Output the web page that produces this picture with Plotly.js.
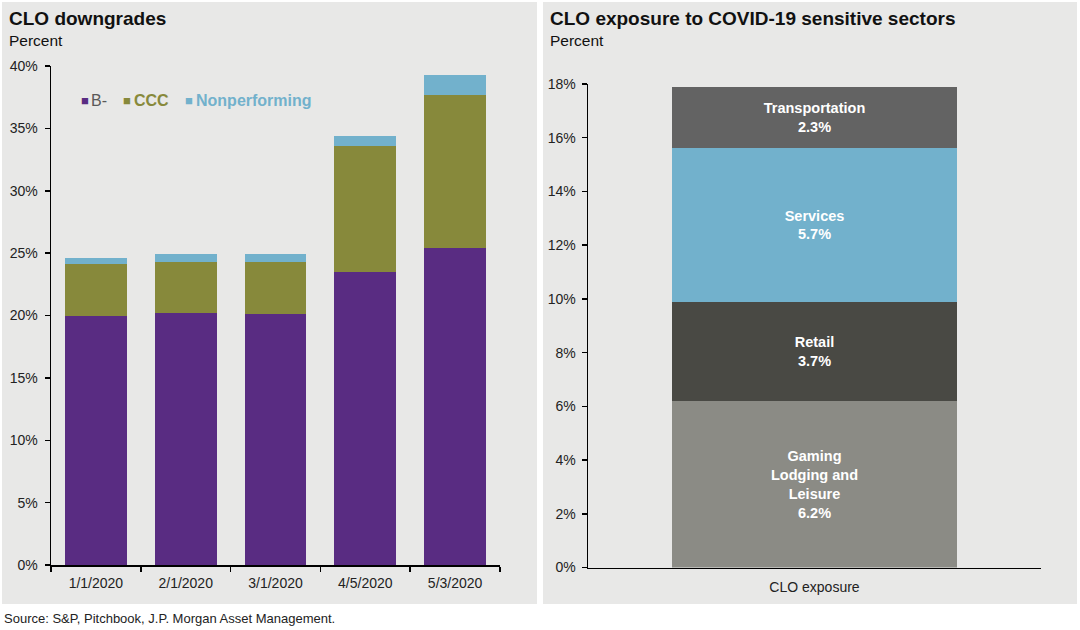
<!DOCTYPE html>
<html>
<head>
<meta charset="utf-8">
<script src="https://cdn.plot.ly/plotly-3.0.1.min.js"></script>
<style>
html,body{margin:0;padding:0;background:#fff;}
#chart{width:1080px;height:630px;}
</style>
</head>
<body>
<div id="chart"></div>
<script>
// Left chart: CLO downgrades (percent)
const dates = ["1/1/2020", "2/1/2020", "3/1/2020", "4/5/2020", "5/3/2020"];
const bMinus = [20.0, 20.2, 20.15, 23.5, 25.4];
const ccc = [4.1, 4.1, 4.15, 10.05, 12.3];
const nonperforming = [0.5, 0.6, 0.6, 0.8, 1.6];
const seriesNames = ["B-", "CCC", "Nonperforming"];
const seriesColors = ["#592c82", "#87893b", "#72b1cc"];
const legendTextColors = ["#595959", "#87893b", "#72b1cc"];

// Right chart: CLO exposure to COVID-19 sensitive sectors (percent)
const exposureCategory = ["CLO exposure"];
const sectors = ["Gaming<br>Lodging and<br>Leisure", "Retail", "Services", "Transportation"];
const sectorValues = [6.2, 3.7, 5.7, 2.3];
const sectorColors = ["#8b8b85", "#494944", "#72b1cc", "#636363"];

const FONT = "Liberation Sans, Arial, sans-serif";
const panel = "#e8e8e7";

const leftSeries = [bMinus, ccc, nonperforming];
const traces = leftSeries.map((vals, i) => ({
  type: "bar", x: dates, y: vals, name: seriesNames[i],
  marker: {color: seriesColors[i], line: {width: 0}},
  xaxis: "x", yaxis: "y", width: 0.69, hoverinfo: "y", showlegend: false
}));

sectors.forEach((s, i) => {
  traces.push({
    type: "bar", x: exposureCategory, y: [sectorValues[i]], name: s,
    marker: {color: sectorColors[i], line: {width: 0}},
    xaxis: "x2", yaxis: "y2", width: 0.627, showlegend: false,
    text: [s + "<br>" + sectorValues[i].toFixed(1) + "%"],
    textposition: "inside", insidetextanchor: "middle", constraintext: "none",
    textfont: {family: FONT, size: 14.5, color: "#ffffff", weight: "bold"},
    hoverinfo: "y"
  });
});

// Legend for left chart (square key + coloured label)
const legendMarkX = [79, 121, 183];
const legendTextX = [89, 132, 194];
const legendAnn = [];
seriesNames.forEach((n, i) => {
  legendAnn.push({text: "■", xref: "paper", yref: "paper", x: legendMarkX[i]/1080, y: 1 - 100/630,
    xanchor: "left", yanchor: "middle", showarrow: false,
    font: {family: FONT, size: 13, color: seriesColors[i]}});
  legendAnn.push({text: i === 0 ? n : "<b>" + n + "</b>", xref: "paper", yref: "paper", x: legendTextX[i]/1080, y: 1 - 100/630,
    xanchor: "left", yanchor: "middle", showarrow: false,
    font: {family: FONT, size: 16, color: legendTextColors[i]}});
});

const layout = {
  width: 1080, height: 630,
  margin: {l: 0, r: 0, t: 0, b: 0},
  paper_bgcolor: "#ffffff",
  plot_bgcolor: "rgba(0,0,0,0)",
  barmode: "stack",
  font: {family: FONT, color: "#222222", size: 14},
  showlegend: false,
  xaxis: {
    domain: [51/1080, 500/1080], anchor: "y", type: "category",
    showline: true, linecolor: "#000", linewidth: 1.5,
    ticks: "outside", tickson: "boundaries", ticklen: 5, tickcolor: "#000", tickwidth: 1.5,
    showgrid: false, zeroline: false, ticklabelstandoff: 5,
    tickfont: {family: FONT, size: 14, color: "#222"}
  },
  yaxis: {
    domain: [1 - 565/630, 1 - 66/630], anchor: "x", range: [0, 40],
    tickvals: [0, 5, 10, 15, 20, 25, 30, 35, 40],
    ticktext: ["0%", "5%", "10%", "15%", "20%", "25%", "30%", "35%", "40%"],
    showline: true, linecolor: "#000", linewidth: 1.5,
    ticks: "outside", ticklen: 5, tickcolor: "#000", tickwidth: 1.5,
    showgrid: false, zeroline: false, ticklabelstandoff: 4,
    tickfont: {family: FONT, size: 14, color: "#222"}
  },
  xaxis2: {
    domain: [588/1080, 1041/1080], anchor: "y2", type: "category",
    showline: true, linecolor: "#000", linewidth: 1.5,
    ticks: "", showgrid: false, zeroline: false, ticklabelstandoff: 6,
    tickfont: {family: FONT, size: 14, color: "#222"}
  },
  yaxis2: {
    domain: [1 - 567.5/630, 1 - 84/630], anchor: "x2", range: [0, 18],
    tickvals: [0, 2, 4, 6, 8, 10, 12, 14, 16, 18],
    ticktext: ["0%", "2%", "4%", "6%", "8%", "10%", "12%", "14%", "16%", "18%"],
    showline: true, linecolor: "#000", linewidth: 1.5,
    ticks: "outside", ticklen: 5, tickcolor: "#000", tickwidth: 1.5,
    showgrid: false, zeroline: false, ticklabelstandoff: 3,
    tickfont: {family: FONT, size: 14, color: "#222"}
  },
  shapes: [
    {type: "rect", xref: "paper", yref: "paper", x0: 2/1080, x1: 537/1080, y0: 1 - 604/630, y1: 1 - 2/630,
     fillcolor: panel, line: {width: 0}, layer: "below"},
    {type: "rect", xref: "paper", yref: "paper", x0: 543/1080, x1: 1077/1080, y0: 1 - 604/630, y1: 1 - 2/630,
     fillcolor: panel, line: {width: 0}, layer: "below"}
  ],
  annotations: [
    {text: "<b>CLO downgrades</b>", xref: "paper", yref: "paper", x: 7/1080, y: 1 - 18/630,
     xanchor: "left", yanchor: "middle", showarrow: false, font: {family: FONT, size: 19, color: "#111"}},
    {text: "Percent", xref: "paper", yref: "paper", x: 7/1080, y: 1 - 40/630,
     xanchor: "left", yanchor: "middle", showarrow: false, font: {family: FONT, size: 15.5, color: "#111"}},
    {text: "<b>CLO exposure to COVID-19 sensitive sectors</b>", xref: "paper", yref: "paper", x: 548/1080, y: 1 - 18/630,
     xanchor: "left", yanchor: "middle", showarrow: false, font: {family: FONT, size: 19, color: "#111"}},
    {text: "Percent", xref: "paper", yref: "paper", x: 548/1080, y: 1 - 40/630,
     xanchor: "left", yanchor: "middle", showarrow: false, font: {family: FONT, size: 15.5, color: "#111"}},
    {text: "Source: S&P, Pitchbook, J.P. Morgan Asset Management.", xref: "paper", yref: "paper", x: 2/1080, y: 1 - 618/630,
     xanchor: "left", yanchor: "middle", showarrow: false, font: {family: FONT, size: 13, color: "#222"}}
  ].concat(legendAnn)
};

Plotly.newPlot("chart", traces, layout, {displayModeBar: false, staticPlot: true});
</script>
</body>
</html>
